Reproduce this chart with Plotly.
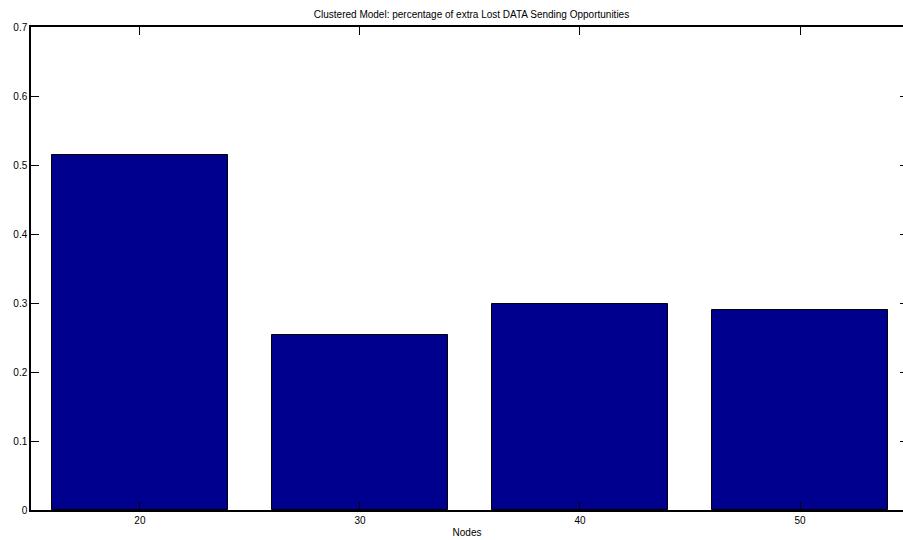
import plotly.graph_objects as go

nodes = [20, 30, 40, 50]
values = [0.515, 0.2535, 0.298, 0.2895]
y_ticks = [0, 0.1, 0.2, 0.3, 0.4, 0.5, 0.6, 0.7]
y_tick_labels = ["0", "0.1", "0.2", "0.3", "0.4", "0.5", "0.6", "0.7"]
x_tick_labels = ["20", "30", "40", "50"]
title_text = "Clustered Model: percentage of extra Lost DATA Sending Opportunities"
x_title = "Nodes"

W, H = 903, 540
L, R, T, B = 31, 0, 27, 30
FONT = "Liberation Sans, Arial, Helvetica, sans-serif"

fig = go.Figure()
fig.add_trace(go.Bar(
    x=nodes, y=values, width=8,
    marker=dict(color="#00008F", line=dict(color="black", width=1)),
    showlegend=False,
))
# invisible trace for the right-hand tick marks
fig.add_trace(go.Scatter(x=[nodes[0]], y=[0], yaxis="y2", mode="markers",
                         marker=dict(opacity=0), showlegend=False, hoverinfo="skip"))

fig.update_layout(
    width=W, height=H,
    margin=dict(l=L, r=R, t=T, b=B, pad=0),
    paper_bgcolor="white", plot_bgcolor="white",
    font=dict(family=FONT, size=10, color="black"),
    title=dict(text=title_text, font=dict(size=10, family=FONT, color="black"),
               x=(471.5 - L) / (W - L - R), xref="paper", xanchor="center",
               y=1 - 14 / H, yref="container", yanchor="middle"),
    xaxis=dict(range=[15.05, 54.68], tickvals=nodes, ticktext=x_tick_labels,
               ticks="inside", ticklen=8, tickcolor="black", tickwidth=1,
               showline=True, linecolor="black", linewidth=1.5, mirror="ticks",
               showgrid=False, zeroline=False,
               title=dict(text=x_title, standoff=4, font=dict(size=10)),
               tickfont=dict(size=10)),
    yaxis=dict(range=[0, 0.7], tickvals=y_ticks, ticktext=y_tick_labels,
               ticks="inside", ticklen=8, tickcolor="black", tickwidth=1,
               showline=True, linecolor="black", linewidth=1.5, mirror=False,
               showgrid=False, zeroline=False, tickfont=dict(size=10)),
    yaxis2=dict(range=[0, 0.7], overlaying="y", side="right", tickvals=y_ticks,
                ticks="inside", ticklen=3, tickcolor="black", tickwidth=1,
                showticklabels=False, showline=False, showgrid=False, zeroline=False),
    bargap=0,
)

fig.write_html("out.html", config={"displayModeBar": False},
               post_script="document.body.style.margin='0';document.body.style.overflow='hidden';")
